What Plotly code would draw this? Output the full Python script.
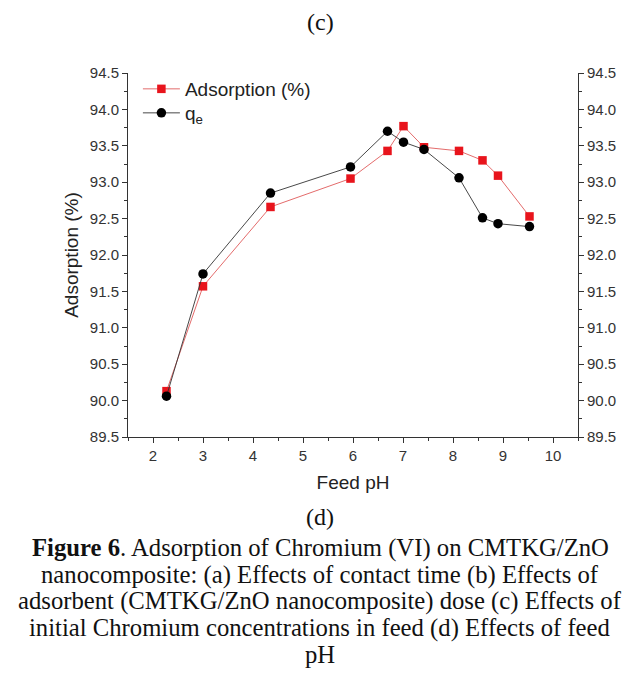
import plotly.graph_objects as go

# Data
ph_values = [2.27, 3.0, 4.35, 5.95, 6.69, 7.01, 7.42, 8.12, 8.59, 8.90, 9.53]
adsorption_pct = [90.13, 91.57, 92.66, 93.05, 93.43, 93.77, 93.48, 93.43, 93.30, 93.09, 92.53]
qe_values = [90.06, 91.74, 92.85, 93.21, 93.70, 93.55, 93.45, 93.06, 92.51, 92.43, 92.39]

x_ticks = [2, 3, 4, 5, 6, 7, 8, 9, 10]
y_ticks = [89.5, 90.0, 90.5, 91.0, 91.5, 92.0, 92.5, 93.0, 93.5, 94.0, 94.5]
y_tick_text = ["%.1f" % v for v in y_ticks]

caption_lines = [
    "<b>Figure 6</b>. Adsorption of Chromium (VI) on CMTKG/ZnO",
    "nanocomposite: (a) Effects of contact time (b) Effects of",
    "adsorbent (CMTKG/ZnO nanocomposite) dose (c) Effects of",
    "initial Chromium concentrations in feed (d) Effects of feed",
    "pH",
]

# page body has an 8px margin -> figure drawn 8px smaller and shifted
OFF = 8
W, H = 640 - OFF, 679 - OFF
L, R, T, B = 120, 62, 65, 242
PH = H - T - B

fig = go.Figure()
fig.add_trace(go.Scatter(
    x=ph_values, y=adsorption_pct, name="Adsorption (%)", mode="lines+markers",
    line=dict(color="#e05a5a", width=0.9),
    marker=dict(symbol="square", size=8.5, color="#e8141c"),
    yaxis="y", legend="legend",
))
fig.add_trace(go.Scatter(
    x=ph_values, y=qe_values, name="q<sub>e</sub>", mode="lines+markers",
    line=dict(color="#333333", width=0.9),
    marker=dict(symbol="circle", size=9.5, color="#000000"),
    yaxis="y2", legend="legend2",
))

axis_font = dict(family="Liberation Sans, Arial", size=15, color="#333333")
title_font = dict(family="Liberation Sans, Arial", size=19, color="#222222")
legend_font = dict(family="Liberation Sans, Arial", size=19, color="#222222")

def legend_at(ref_y):
    return dict(x=0.022, y=(H - (ref_y - OFF) - B) / PH, xanchor="left", yanchor="middle",
                itemwidth=37, font=legend_font, bgcolor="rgba(0,0,0,0)")

fig.update_layout(
    width=W, height=H,
    margin=dict(l=L, r=R, t=T, b=B),
    paper_bgcolor="white", plot_bgcolor="white",
    showlegend=True,
    legend=legend_at(89),
    legend2=legend_at(113),
    xaxis=dict(range=[1.5, 10.5], tickvals=x_ticks, ticks="outside", ticklen=5,
               tickcolor="#333", showline=True, linecolor="#333", linewidth=1,
               showgrid=False, zeroline=False, tickfont=axis_font,
               minor=dict(ticks="outside", dtick=0.5, tick0=1.5, ticklen=3, tickcolor="#333", showgrid=False),
               title=dict(text="Feed pH", font=title_font, standoff=12)),
    yaxis=dict(range=[89.5, 94.5], tickvals=y_ticks, ticktext=y_tick_text, ticks="outside", ticklen=5,
               tickcolor="#333", showline=True, linecolor="#333", linewidth=1,
               showgrid=False, zeroline=False, tickfont=axis_font,
               minor=dict(ticks="outside", dtick=0.25, tick0=89.5, ticklen=3, tickcolor="#333", showgrid=False),
               title=dict(text="Adsorption (%)", font=title_font, standoff=6)),
    yaxis2=dict(range=[89.5, 94.5], tickvals=y_ticks, ticktext=y_tick_text, overlaying="y", side="right",
                ticks="outside", ticklen=5, tickcolor="#333", showline=True, linecolor="#333", linewidth=1,
                showgrid=False, zeroline=False, tickfont=axis_font,
                minor=dict(ticks="outside", dtick=0.25, tick0=89.5, ticklen=3, tickcolor="#333", showgrid=False)),
)

serif = dict(family="Liberation Serif, Times New Roman", size=24.7, color="#111111")
label_font = dict(family="Liberation Serif, Times New Roman", size=24, color="#111111")
# (text, y position in reference pixels, font)
texts = [("(c)", 22, label_font), ("(d)", 517, label_font)]
for i, line in enumerate(caption_lines):
    texts.append((line, 548 + 26.5 * i, serif))

for text, ypx_ref, fnt in texts:
    ypx = ypx_ref - OFF
    fig.add_annotation(
        text=text, xref="paper", yref="paper",
        x=(320 - OFF - L) / (W - L - R), y=(H - ypx - B) / PH,
        xanchor="center", yanchor="middle", showarrow=False, font=fnt,
    )

fig.write_html("out.html")
